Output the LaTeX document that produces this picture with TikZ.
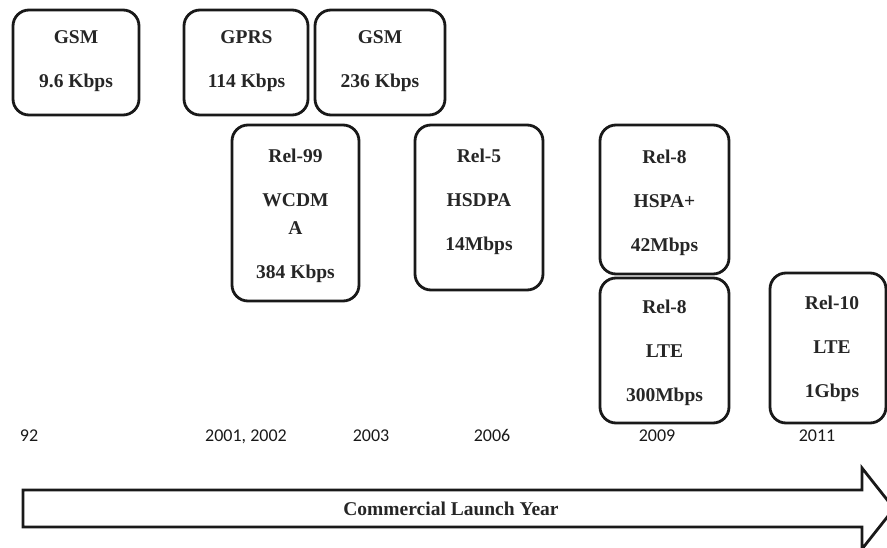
\documentclass[tikz,border=0pt]{standalone}
\usepackage{fontspec}
\setmainfont{Liberation Serif}
\newfontfamily\yearfont{Carlito}
\begin{document}
\begin{tikzpicture}[x=1pt,y=-1pt,
  stage/.style={draw=black!90, line width=2.8pt, rounded corners=16pt, fill=white, inner sep=0pt},
  stagetext/.style={align=center, font=\bfseries\fontsize{19.5}{28}\selectfont, text=black!85, inner sep=0pt},
  year/.style={font=\yearfont\fontsize{18}{20}\selectfont, text=black!90, inner sep=0pt, anchor=base},
  launch/.style={draw=black!90, line width=2.8pt, line join=miter, fill=white},
]
\useasboundingbox (0,0) rectangle (887,548);

% first row: GSM / GPRS / EDGE-era GSM
\node[stage, minimum width=126pt, minimum height=105pt] (gsmA) at (76,62.5) {};
\node[stage, minimum width=124pt, minimum height=105pt] (gprs) at (246,62.5) {};
\node[stage, minimum width=130pt, minimum height=105pt] (gsmB) at (380,62.5) {};
\node[stagetext] (gsmAt) at (76,61) {GSM\\[16pt]9.6 Kbps};
\node[stagetext] (gprst) at (246.5,61) {GPRS\\[16pt]114 Kbps};
\node[stagetext] (gsmBt) at (380,61) {GSM\\[16pt]236 Kbps};

% 3GPP releases
\node[stage, minimum width=127pt, minimum height=176pt] (rel99) at (295.5,213) {};
\node[stage, minimum width=128pt, minimum height=165pt] (rel5) at (479,207.5) {};
\node[stage, minimum width=129pt, minimum height=149pt] (hspa) at (664.5,199.5) {};
\node[stage, minimum width=129pt, minimum height=145pt] (lteA) at (664.5,350.5) {};
\node[stage, minimum width=116pt, minimum height=150pt] (rel10) at (828,348) {};
\node[stagetext] (rel99t) at (295.5,215.5) {Rel-99\\[16pt]WCDM\\A\\[16pt]384 Kbps};
\node[stagetext] (rel5t) at (479,202) {Rel-5\\[16pt]HSDPA\\[16pt]14Mbps};
\node[stagetext] (hspat) at (664.5,203) {Rel-8\\[16pt]HSPA+\\[16pt]42Mbps};
\node[stagetext] (lteAt) at (664.5,353) {Rel-8\\[16pt]LTE\\[16pt]300Mbps};
\node[stagetext] (rel10t) at (832,348.5) {Rel-10\\[16pt]LTE\\[16pt]1Gbps};

% launch years, all on one baseline
\node[year] (y92) at (29,441) {92};
\node[year] (y01) at (246,441) {2001, 2002};
\node[year] (y03) at (371,441) {2003};
\node[year] (y06) at (492,441) {2006};
\node[year] (y09) at (657,441) {2009};
\node[year] (y11) at (817,441) {2011};

% timeline arrow
\draw[launch] (23,490) -- (862,490) -- (862,468) -- (894,508.5) -- (862,549)
  -- (862,527) -- (23,527) -- cycle;
\node[font=\bfseries\fontsize{19.5}{22}\selectfont, text=black!85, inner sep=0pt]
  (launchText) at (451,509) {Commercial Launch Year};
\end{tikzpicture}
\end{document}
